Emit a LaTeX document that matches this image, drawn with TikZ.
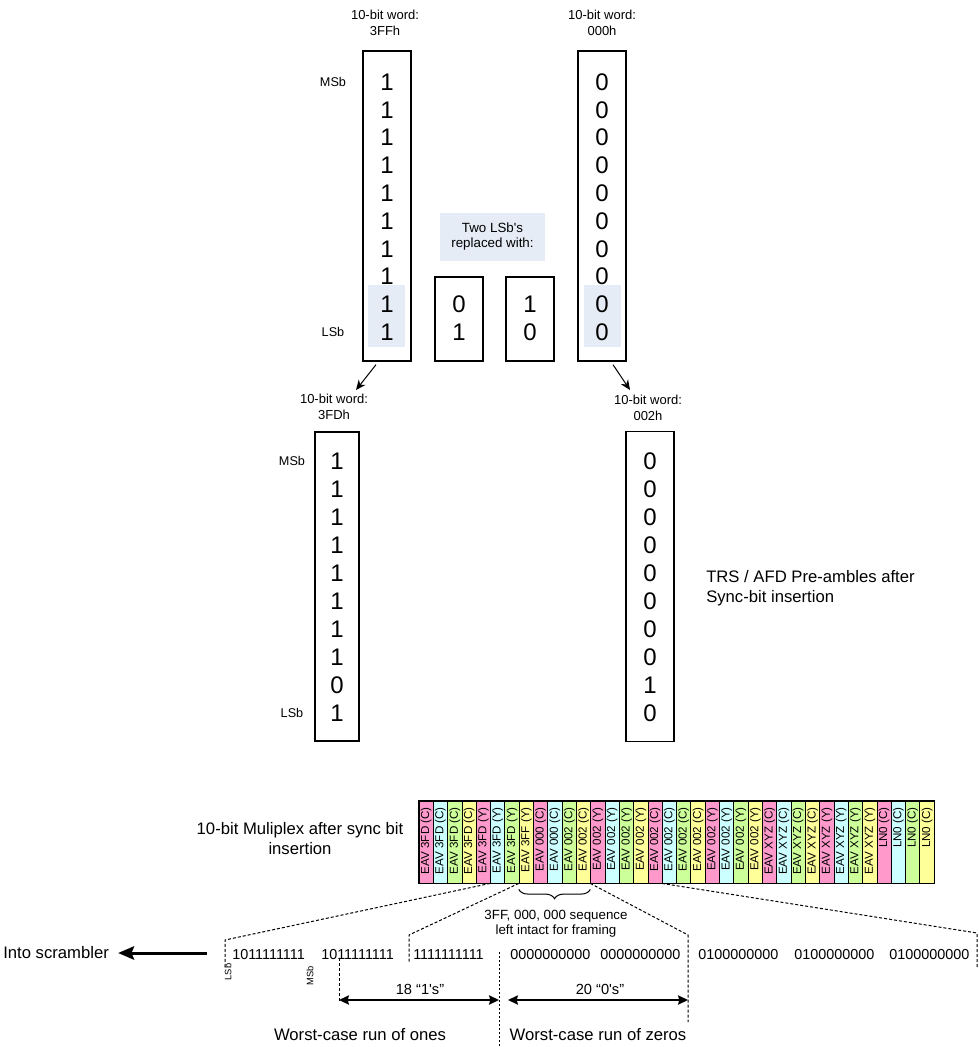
\documentclass[tikz,border=0pt]{standalone}
\usepackage{fontspec}
\setmainfont{Liberation Sans}
\usetikzlibrary{arrows.meta,decorations.pathreplacing}
\definecolor{hl}{RGB}{230,236,246}
\definecolor{cpink}{RGB}{255,153,204}
\definecolor{ccyan}{RGB}{204,255,255}
\definecolor{cgreen}{RGB}{204,255,153}
\definecolor{cyell}{RGB}{255,255,153}
\newcommand{\fsdig}{\fontsize{18pt}{18pt}\selectfont}
\newcommand{\fsside}{\fontsize{9.5pt}{11pt}\selectfont}
\newcommand{\fswlab}{\fontsize{9.75pt}{12pt}\selectfont}
\newcommand{\fsbig}{\fontsize{12.5pt}{15pt}\selectfont}
\newcommand{\fscell}{\fontsize{8.7pt}{9pt}\selectfont}
\newcommand{\fsbits}{\fontsize{10.8pt}{12pt}\selectfont}
\newcommand{\fstiny}{\fontsize{7pt}{8pt}\selectfont}
\newcommand{\fsmid}{\fontsize{10pt}{11.25pt}\selectfont}
\newcommand{\fsrun}{\fontsize{11pt}{12pt}\selectfont}
\begin{document}
\begin{tikzpicture}[x=0.75pt,y=-0.75pt,
  wordbox/.style={draw, line width=1pt, inner sep=0pt, minimum width=36pt, minimum height=232.5pt},
  wordboxn/.style={draw, line width=1pt, inner sep=0pt, minimum width=33pt, minimum height=231.75pt},
  smallbox/.style={draw, line width=1pt, inner sep=0pt, minimum width=36pt, minimum height=63pt},
  hlbox/.style={fill=hl, inner sep=0pt, minimum width=27.75pt, minimum height=46.5pt},
  digit/.style={font=\fsdig, inner sep=0pt},
  side/.style={font=\fsside, inner sep=0pt},
  wlab/.style={font=\fswlab, align=center, inner sep=0pt},
  biglab/.style={font=\fsbig, align=center, inner sep=0pt},
  midlab/.style={font=\fsmid, align=center, inner sep=0pt},
  runlab/.style={font=\fsrun, inner sep=0pt},
  cellbox/.style={draw, line width=0.6pt, inner sep=0pt, minimum width=10.73pt, minimum height=61.5pt},
  celltxt/.style={font=\fscell, rotate=90, anchor=east, inner sep=0pt},
  bitword/.style={font=\fsbits, anchor=west, inner sep=0pt},
  tinylab/.style={font=\fstiny, rotate=90, inner sep=0pt},
  dsh/.style={line width=0.75pt, dash pattern=on 2.25pt off 1.5pt},
  dotl/.style={line width=0.6pt, dash pattern=on 1.5pt off 1.5pt},
  sarr/.style={line width=0.75pt, -{Stealth[length=7.5pt,width=6.5pt]}},
  darr/.style={line width=1.1pt, {Stealth[length=7.5pt,width=7pt,inset=1pt]}-{Stealth[length=7.5pt,width=7pt,inset=1pt]}},
  bigarr/.style={line width=2.25pt, -{Stealth[length=12pt,width=10pt,inset=2pt]}},
  brc/.style={line width=0.75pt, decorate, decoration={brace, mirror, amplitude=7pt}}
]
\useasboundingbox (0,0) rectangle (979,1047);

% ---------- top words ----------
\node[wlab] (t1) at (385,23) {10-bit word:\\3FFh};
\node[wlab] (t2) at (602,23) {10-bit word:\\000h};
\node[hlbox] (h1) at (386.5,316) {};
\node[hlbox] (h2) at (602.5,316) {};
\node[wordbox] (b1) at (387,206) {};
\node[wordbox] (b2) at (602,206) {};
\foreach \i in {0,...,9} {
  \node[digit] (da\i) at (387,{82+27.8*\i}) {1};
  \node[digit] (db\i) at (602,{82+27.8*\i}) {0};
}
\node[side] (msb1) at (333,82) {MSb};
\node[side] (lsb1) at (333,332) {LSb};

\node[midlab, fill=hl, minimum width=78.75pt, minimum height=36pt] (rep) at (492.5,237) {Two LSb\textquotesingle s\\replaced with:};
\node[smallbox] (m1) at (459,319) {};
\node[smallbox] (m2) at (530,319) {};
\node[digit] (m1a) at (459,304) {0};
\node[digit] (m1b) at (459,332) {1};
\node[digit] (m2a) at (530,304) {1};
\node[digit] (m2b) at (530,332) {0};

% ---------- second words ----------
\node[wlab] (t3) at (334,407) {10-bit word:\\3FDh};
\node[wlab] (t4) at (648,408) {10-bit word:\\002h};
\coordinate (p1) at (356,390);
\coordinate (p2) at (630,390);
\draw[sarr] ([shift={(-11,3)}]b1.south) -- (p1);
\draw[sarr] ([shift={(11,3)}]b2.south) -- (p2);

\node[wordboxn] (b3) at (337,586.5) {};
\node[wordbox] (b4) at (650,586.5) {};
\foreach \v [count=\i from 0] in {1,1,1,1,1,1,1,1,0,1} {
  \node[digit] (dc\i) at (337,{461+28*\i}) {\v};
}
\foreach \v [count=\i from 0] in {0,0,0,0,0,0,0,0,1,0} {
  \node[digit] (dd\i) at (650,{461+28*\i}) {\v};
}
\node[side] (msb2) at (292,461) {MSb};
\node[side] (lsb2) at (292,713) {LSb};

\node[biglab, anchor=west, align=left] (trs) at (706,588) {TRS / AFD Pre-ambles after\\Sync-bit insertion};

% ---------- multiplex strip ----------
\node[biglab] (mux) at (300,839) {10-bit Muliplex after sync bit\\insertion};
\foreach \i/\c/\t in {
 1/cpink/EAV 3FD (C), 2/ccyan/EAV 3FD (C), 3/cgreen/EAV 3FD (C), 4/cyell/EAV 3FD (C),
 5/cpink/EAV 3FD (Y), 6/ccyan/EAV 3FD (Y), 7/cgreen/EAV 3FD (Y), 8/cyell/EAV 3FF (Y),
 9/cpink/EAV 000 (C), 10/ccyan/EAV 000 (C), 11/cgreen/EAV 002 (C), 12/cyell/EAV 002 (C),
 13/cpink/EAV 002 (Y), 14/ccyan/EAV 002 (Y), 15/cgreen/EAV 002 (Y), 16/cyell/EAV 002 (Y),
 17/cpink/EAV 002 (C), 18/ccyan/EAV 002 (C), 19/cgreen/EAV 002 (C), 20/cyell/EAV 002 (C),
 21/cpink/EAV 002 (Y), 22/ccyan/EAV 002 (Y), 23/cgreen/EAV 002 (Y), 24/cyell/EAV 002 (Y),
 25/cpink/EAV XYZ (C), 26/ccyan/EAV XYZ (C), 27/cgreen/EAV XYZ (C), 28/cyell/EAV XYZ (C),
 29/cpink/EAV XYZ (Y), 30/ccyan/EAV XYZ (Y), 31/cgreen/EAV XYZ (Y), 32/cyell/EAV XYZ (Y),
 33/cpink/LN0 (C), 34/ccyan/LN0 (C), 35/cgreen/LN0 (C), 36/cyell/LN0 (C)} {
  \node[cellbox, fill=\c] (c\i) at ({419+14.31*(\i-0.5)},842) {};
  \node[celltxt] (ct\i) at ({419+14.31*(\i-0.5)},807) {\t};
}
\draw[line width=1pt] (c1.north west) rectangle (c36.south east);

\draw[brc] ([yshift=-4.5pt]c8.south west) -- ([yshift=-4.5pt]c13.south west);
\node[midlab] (seq) at (556,924) {3FF, 000, 000 sequence\\left intact for framing};

% ---------- dashed expansion lines ----------
\coordinate (k1) at (225,940);
\coordinate (k1b) at (225,968);
\coordinate (k2) at (409,935);
\coordinate (k2b) at (409,962);
\coordinate (k3) at (688,935);
\coordinate (k3b) at (688,1022);
\coordinate (k4) at (977,933);
\coordinate (k4b) at (977,968);
\draw[dsh] (c6.south west) -- (k1) -- (k1b);
\draw[dsh] (c8.south west) -- (k2) -- (k2b);
\draw[dsh] (c13.south west) -- (k3) -- (k3b);
\draw[dsh] (c18.south west) -- (k4) -- (k4b);

% ---------- bit sequence ----------
\node[bitword] (w1) at (232,955) {1011111111};
\node[bitword] (w2) at (321,955) {1011111111};
\node[bitword] (w3) at (413,955) {1111111111};
\node[bitword] (w4) at (510,955) {0000000000};
\node[bitword] (w5) at (600,955) {0000000000};
\node[bitword] (w6) at (698,955) {0100000000};
\node[bitword] (w7) at (794,955) {0100000000};
\node[bitword] (w8) at (889,955) {0100000000};
\node[tinylab] (lsb3) at (228,972) {LSb};
\node[tinylab] (msb3) at (310,976) {MSb};

\node[biglab, anchor=west] (isc) at (3,953) {Into scrambler};
\coordinate (sc0) at (207,953);
\draw[bigarr] (sc0) -- ([xshift=6.75pt]isc.east);

% ---------- runs ----------
\coordinate (ms0) at (339,958);
\coordinate (ms1) at (339,1003);
\draw[dsh] (ms0) -- (ms1);
\coordinate (sp0) at (499,952);
\coordinate (sp1) at (499,1047);
\draw[dotl] (sp0) -- (sp1);
\coordinate (oa) at (339,1000);
\coordinate (ob) at (499,1000);
\coordinate (za) at (508,1000);
\coordinate (zb) at (688,1000);
\draw[darr] (oa) -- (ob);
\draw[darr] (za) -- (zb);
\node[runlab] (r1) at (420,989) {18 “1\textquotesingle s”};
\node[runlab] (r2) at (600,989) {20 “0\textquotesingle s”};
\node[biglab] (wc1) at (360,1035) {Worst-case run of ones};
\node[biglab] (wc2) at (598,1035) {Worst-case run of zeros};
\end{tikzpicture}
\end{document}
